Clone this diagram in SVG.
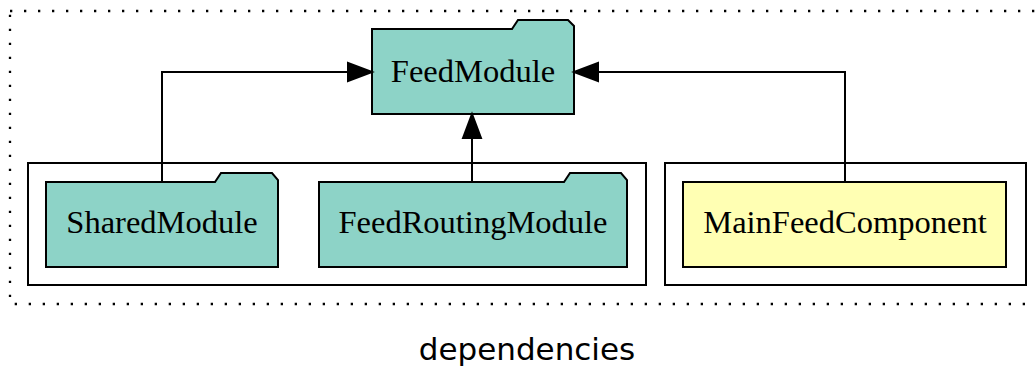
<svg xmlns="http://www.w3.org/2000/svg" width="1035" height="367" viewBox="0 0 1035 367">
<style>
.module{fill:#8dd3c7;stroke:#000;stroke-width:2}
.component{fill:#ffffb3;stroke:#000;stroke-width:2}
.cluster{fill:none;stroke:#000;stroke-width:2}
.lbl{font-family:"Liberation Serif","Times New Roman",serif;font-size:32.5px;fill:#000;text-anchor:middle}
.edge{fill:none;stroke:#000;stroke-width:2}
.head{fill:#000;stroke:#000;stroke-width:2}
</style>
<rect x="0" y="0" width="1035" height="367" fill="#fff"/>
<rect x="10" y="11" width="1040" height="293" fill="none" stroke="#000" stroke-width="2.3" stroke-dasharray="2.3,11.7"/>
<g id="cluster-modules"><rect class="cluster" x="28" y="163" width="618" height="122"/></g>
<g id="cluster-components"><rect class="cluster" x="665" y="163" width="361" height="122"/></g>
<g id="FeedModule">
<path class="module" d="M372,29 H512 L518,20 H568 L574,26 V114 H372 Z"/>
<text class="lbl" x="473" y="82">FeedModule</text>
</g>
<g id="SharedModule">
<path class="module" d="M46,182 H215 L221,173 H272 L278,180 V267 H46 Z"/>
<text class="lbl" x="162" y="233">SharedModule</text>
</g>
<g id="FeedRoutingModule">
<path class="module" d="M319,182 H564 L570,173 H621 L627,180 V267 H319 Z"/>
<text class="lbl" x="473" y="233">FeedRoutingModule</text>
</g>
<g id="MainFeedComponent">
<rect class="component" x="683" y="182" width="323" height="85"/>
<text class="lbl" x="845" y="233">MainFeedComponent</text>
</g>
<g id="connectors">
<path class="edge" d="M162,182 V72 H348"/>
<polygon class="head" points="348,63 372,72 348,81"/>
<path class="edge" d="M472,182 V138"/>
<polygon class="head" points="463,138 472,114 481,138"/>
<path class="edge" d="M845,182 V72 H598"/>
<polygon class="head" points="598,63 574,72 598,81"/>
</g>
<text x="527" y="360" font-family="DejaVu Sans,sans-serif" font-size="31" text-anchor="middle" fill="#000">dependencies</text>
</svg>
